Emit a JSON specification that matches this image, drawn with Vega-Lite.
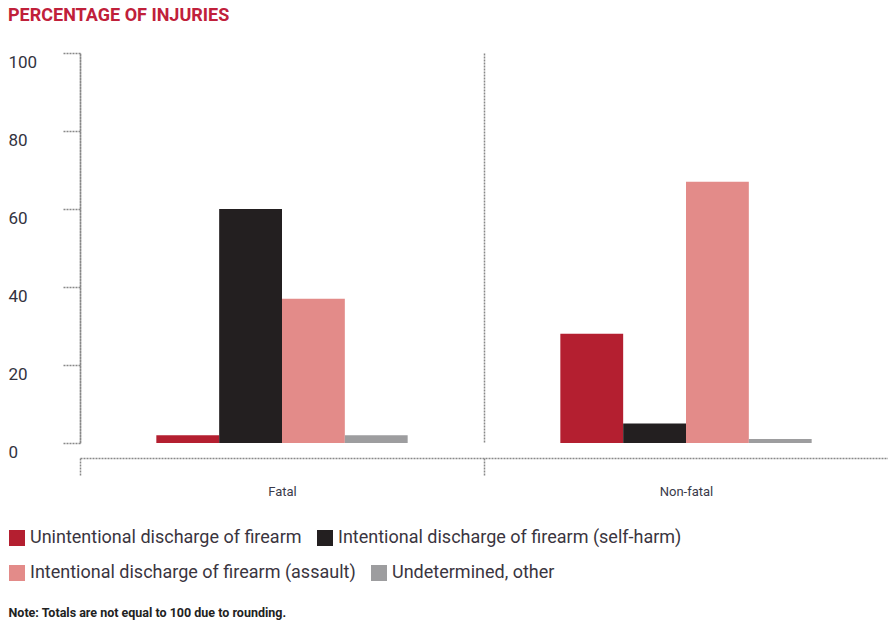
{
  "$schema": "https://vega.github.io/schema/vega-lite/v6.json",
  "autosize": {"type": "none"},
  "padding": {"left": 80, "top": 53, "right": 0, "bottom": 183},
  "width": 808,
  "height": 390,
  "background": "white",
  "config": {
    "font": "Roboto, sans-serif",
    "view": {"stroke": null},
    "legend": {
      "title": null,
      "orient": "none",
      "direction": "horizontal",
      "columnPadding": 14,
      "symbolType": "square",
      "symbolSize": 256,
      "symbolStrokeWidth": 0,
      "labelOffset": 4,
      "labelFontSize": 18,
      "labelColor": "#3a3540",
      "labelLimit": 0
    }
  },
  "title": {
    "text": "PERCENTAGE OF INJURIES",
    "anchor": "start",
    "frame": "group",
    "dx": -72,
    "offset": 27,
    "fontSize": 18,
    "fontWeight": "bold",
    "color": "#c0203a",
    "font": "Roboto, sans-serif"
  },
  "data": {
    "values": [
      {"group": "Fatal", "cause": "Unintentional discharge of firearm", "pct": 2},
      {"group": "Fatal", "cause": "Intentional discharge of firearm (self-harm)", "pct": 60},
      {"group": "Fatal", "cause": "Intentional discharge of firearm (assault)", "pct": 37},
      {"group": "Fatal", "cause": "Undetermined, other", "pct": 2},
      {"group": "Non-fatal", "cause": "Unintentional discharge of firearm", "pct": 28},
      {"group": "Non-fatal", "cause": "Intentional discharge of firearm (self-harm)", "pct": 5},
      {"group": "Non-fatal", "cause": "Intentional discharge of firearm (assault)", "pct": 67},
      {"group": "Non-fatal", "cause": "Undetermined, other", "pct": 1}
    ]
  },
  "encoding": {
    "x": {
      "field": "group",
      "type": "nominal",
      "sort": ["Fatal", "Non-fatal"],
      "scale": {"paddingInner": 0, "paddingOuter": 0},
      "axis": {
        "offset": 15,
        "tickBand": "extent",
        "domainDash": [2, 1],
        "domainColor": "#888888",
        "domainWidth": 1.5,
        "tickDash": [2, 1],
        "tickColor": "#888888",
        "tickWidth": 1.5,
        "tickSize": 17,
        "tickOpacity": {"condition": {"test": "datum.value === 'Non-fatal'", "value": 0}, "value": 1},
        "grid": true,
        "gridDash": [2, 1],
        "gridColor": "#888888",
        "gridWidth": 1.5,
        "gridOpacity": {"condition": {"test": "datum.value === 'Non-fatal'", "value": 0}, "value": 1},
        "labelAngle": 0,
        "labelFontSize": 13,
        "labelColor": "#3a3a4a",
        "labelPadding": 10,
        "title": "Note: Totals are not equal to 100 due to rounding.",
        "titleX": -72,
        "titleY": 154,
        "titleAlign": "left",
        "titleBaseline": "middle",
        "titleFontSize": 12.5,
        "titleFontWeight": "bold",
        "titleColor": "#222222"
      }
    },
    "xOffset": {
      "field": "cause",
      "type": "nominal",
      "scale": {
        "domain": [
          "_left",
          "Unintentional discharge of firearm",
          "Intentional discharge of firearm (self-harm)",
          "Intentional discharge of firearm (assault)",
          "Undetermined, other",
          "_right"
        ],
        "paddingInner": 0,
        "paddingOuter": 0.215
      }
    },
    "y": {
      "field": "pct",
      "type": "quantitative",
      "scale": {"domain": [0, 100], "nice": false},
      "axis": {
        "values": [0, 20, 40, 60, 80, 100],
        "title": null,
        "grid": false,
        "domainDash": [2, 1],
        "domainColor": "#888888",
        "domainWidth": 1.5,
        "tickDash": [2, 1],
        "tickColor": "#888888",
        "tickWidth": 1.5,
        "tickSize": 18,
        "labelAlign": "left",
        "labelPadding": 54,
        "labelOffset": 9,
        "labelFontSize": 17,
        "labelColor": "#333340"
      }
    }
  },
  "layer": [
    {
      "transform": [
        {"filter": {"field": "cause", "oneOf": ["Unintentional discharge of firearm", "Intentional discharge of firearm (self-harm)"]}}
      ],
      "mark": {"type": "bar"},
      "encoding": {
        "color": {
          "field": "cause",
          "type": "nominal",
          "scale": {
            "domain": ["Unintentional discharge of firearm", "Intentional discharge of firearm (self-harm)"],
            "range": ["#b41f30", "#231f20"]
          },
          "legend": {"legendX": -72, "legendY": 476}
        }
      }
    },
    {
      "transform": [
        {"filter": {"field": "cause", "oneOf": ["Intentional discharge of firearm (assault)", "Undetermined, other"]}}
      ],
      "mark": {"type": "bar"},
      "encoding": {
        "color": {
          "field": "cause",
          "type": "nominal",
          "scale": {
            "domain": ["Intentional discharge of firearm (assault)", "Undetermined, other"],
            "range": ["#e38b89", "#9d9d9f"]
          },
          "legend": {"legendX": -72, "legendY": 511}
        }
      }
    }
  ],
  "resolve": {"scale": {"color": "independent"}, "legend": {"color": "independent"}}
}
